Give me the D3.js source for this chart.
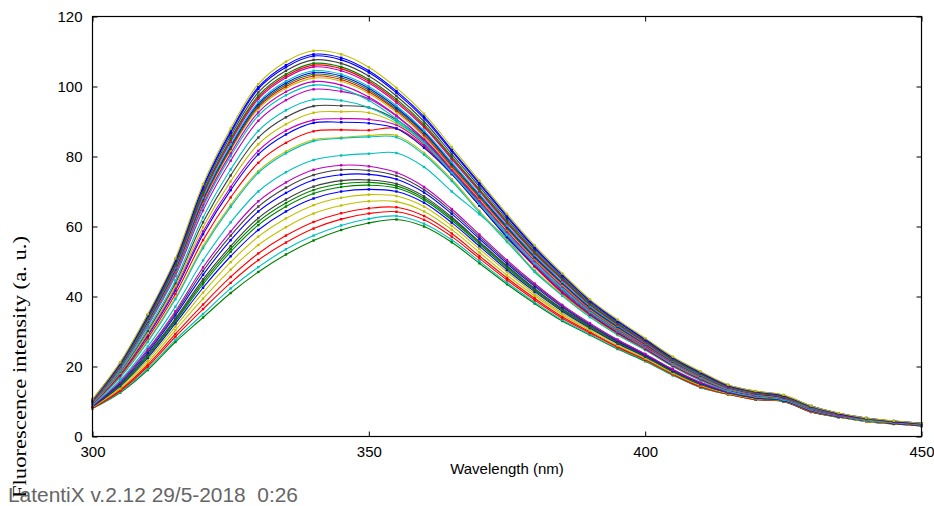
<!DOCTYPE html>
<html>
<head>
<meta charset="utf-8">
<script src="https://cdn.jsdelivr.net/npm/d3@7"></script>
<style>
  body { margin: 0; background: #fff; }
  svg text { font-family: "Liberation Sans", Arial, sans-serif; }
</style>
</head>
<body>
<svg id="chart" width="934" height="506"></svg>
<script>
// excitation scan, emission wavelengths (nm), one reading every 5 nm
var wavelengths = [300,305,310,315,320,325,330,335,340,345,350,355,360,365,370,375,380,385,390,395,400,405,410,415,420,425,430,435,440,445,450];
var xTicks = [300,350,400,450];
var yTicks = [0,20,40,60,80,100,120];

var lowSpectra = [
  [8,12.5,19,27,34,41,47,52,56,59,61,62,60,55.5,49.5,43.5,38,33,29,25,21.5,17.5,14,12,10.5,10,7,5.5,4.3,3.6,3],
  [8.1,12.7,19.4,27.6,35,42.3,48.4,53.5,57.4,60.3,62.2,63,60.8,56.2,50.1,44,38.4,33.3,29.2,25.2,21.7,17.6,14.1,12.1,10.6,10,7,5.5,4.3,3.6,3],
  [8.1,13,20,28.5,36.4,43.9,50.4,55.4,59.4,62.1,63.7,64.2,61.9,57.1,50.9,44.7,39,33.8,29.6,25.5,21.9,17.8,14.2,12.1,10.6,10.1,7.1,5.6,4.3,3.6,3],
  [8.2,13.3,20.5,29.3,37.7,45.6,52.3,57.4,61.3,63.8,65.2,65.5,63,58,51.6,45.3,39.5,34.2,29.9,25.7,22.1,17.9,14.4,12.2,10.7,10.1,7.1,5.6,4.4,3.7,3.1],
  [8.3,13.7,21.2,30.4,39.4,47.7,54.7,59.8,63.7,66,67.2,67.1,64.3,59.1,52.6,46.1,40.2,34.8,30.3,26,22.3,18.1,14.6,12.3,10.8,10.2,7.2,5.6,4.4,3.7,3.1],
  [8.4,14.1,21.9,31.4,41.1,49.8,57.1,62.3,66.1,68.2,69.1,68.7,65.7,60.2,53.6,47,40.8,35.3,30.7,26.4,22.6,18.3,14.7,12.4,10.9,10.3,7.3,5.7,4.4,3.7,3.1],
  [8.5,14.4,22.5,32.3,42.5,51.5,59,64.3,68,70,70.6,70,66.8,61.1,54.4,47.6,41.4,35.8,31,26.6,22.8,18.5,14.9,12.5,11,10.3,7.3,5.7,4.5,3.8,3.2],
  [8.6,14.6,22.9,32.9,43.5,52.8,60.4,65.7,69.4,71.3,71.8,71,67.6,61.8,55,48.1,41.8,36.1,31.2,26.8,22.9,18.6,15,12.6,11,10.3,7.4,5.7,4.5,3.8,3.2],
  [8.6,14.8,23.2,33.3,44.2,53.6,61.4,66.7,70.4,72.2,72.6,71.6,68.1,62.3,55.4,48.5,42.1,36.3,31.4,27,23,18.7,15.1,12.6,11,10.4,7.4,5.7,4.5,3.8,3.2],
  [8.6,14.9,23.5,33.7,44.9,54.4,62.4,67.7,71.4,73.1,73.3,72.2,68.6,62.7,55.7,48.8,42.3,36.5,31.6,27.1,23.1,18.8,15.1,12.6,11.1,10.4,7.4,5.8,4.5,3.8,3.2],
  [8.7,15.2,24,34.6,46.2,56.1,64.3,69.6,73.3,74.8,74.9,73.5,69.7,63.6,56.5,49.4,42.9,37,31.9,27.3,23.3,18.9,15.3,12.7,11.1,10.4,7.5,5.8,4.6,3.8,3.2],
  [8.8,15.4,24.5,35.2,47.3,57.4,65.7,71.1,74.7,76.2,76,74.5,70.5,64.3,57.1,49.9,43.3,37.3,32.1,27.5,23.5,19.1,15.4,12.8,11.2,10.5,7.5,5.8,4.6,3.8,3.2],
  [8.8,15.7,24.9,35.8,48.3,58.6,67.2,72.6,76.2,77.5,77.2,75.4,71.3,65,57.7,50.4,43.7,37.6,32.4,27.7,23.6,19.2,15.5,12.8,11.3,10.5,7.5,5.8,4.6,3.9,3.3],
  [9,16.1,25.7,37.1,50.3,61.2,70,75.5,79,80.3,80.8,81,77,70,63.5,56.5,47,40.5,34.5,29.5,25,20,16,13,11.4,10.6,7.6,5.9,4.6,3.9,3.3],
  [9.2,17,27.4,39.6,54.4,66.2,75.8,81.4,84.8,85.4,86,86,81,73.5,64.5,56,47.5,40.5,34.3,29.2,24.8,20,16.2,13.2,11.6,10.7,7.8,6,4.7,4,3.4],
  [9.1,16.8,27,39.2,53.8,65.6,75.3,80.9,84.4,85.2,85.6,85.5,80.5,73,64,55.6,47.2,40.2,34.1,29,24.7,20,16.1,13.1,11.6,10.6,7.8,6,4.7,4,3.3],
  [9.3,17.4,28.1,40.7,56.1,68.3,78.2,83.9,87.2,87.6,87.5,88,83,75,66,57,48.5,41,34.8,29.5,25,20.2,16.3,13.3,11.7,10.8,7.8,6,4.8,4,3.4],
  [9.4,17.8,28.8,41.7,57.8,70.4,80.6,86.3,89.6,89.8,89.5,88,82.5,75,66,57,48.8,41.3,35,29.8,25.2,20.4,16.5,13.4,11.8,10.8,7.9,6.1,4.8,4,3.4],
  [9.4,18,29.2,42.3,58.6,71.3,81.6,87.4,90.4,90.8,90.6,89,83.5,75.8,66.6,57.5,49,41.5,35.1,29.9,25.3,20.5,16.6,13.4,11.8,10.9,7.9,6.1,4.8,4.1,3.4],
  [9.5,18.2,29.6,43,59.8,72.9,83.5,89.2,92.5,92.8,92.5,89.5,84,76,67,58,49.5,42,35.5,30.1,25.4,20.6,16.7,13.5,11.9,10.9,8,6.1,4.8,4.1,3.5],
  [9.6,18.5,30.2,43.8,61.2,74.6,85.4,91.2,94.4,94.5,94,90.5,84.5,76,66.8,57.8,49.5,42,35.5,30.2,25.5,20.7,16.8,13.6,12,11,8,6.1,4.9,4.1,3.5],
  [9.7,18.8,30.8,44.6,62.6,76.3,87.3,93.2,96.3,96,94,90,84,75.5,66.5,57.6,49.5,42.2,35.7,30.5,25.7,20.9,16.9,13.7,12,11,8.1,6.2,4.9,4.1,3.5],
  [9.8,19.3,31.6,45.9,64.6,78.8,90.2,96.1,99.2,98.6,96.5,91.5,85,76.5,67.5,58.6,50.3,42.9,36.2,30.9,26,21.1,17.2,13.8,12.1,11.1,8.2,6.2,4.9,4.1,3.5]
];
var lowColors = ["g","c","r","r","y","y","b","g","g","k","b","k","m","c","y","c","r","b","m","y","k","c","m"];

// the dense upper bundle, drawn last
var highSpectra = [
  [9.7,19.3,31.8,46.3,65.6,80.1,91.7,97.5,100.4,99.4,96,90.7,84,75.3,66.6,57.9,49.7,42.5,35.7,30.4,25.6,20.7,16.9,13.5,11.9,10.8,8,6.1,4.8,4.1,3.5],
  [9.8,19.5,32.2,46.8,66.3,80.9,92.6,98.5,101.4,100.4,97,91.7,84.8,76.1,67.3,58.5,50.2,42.9,36.1,30.7,25.8,21,17.1,13.7,12,10.9,8.1,6.1,4.9,4.1,3.5],
  [9.9,19.7,32.5,47.3,67,81.8,93.6,99.5,102.4,101.5,98,92.6,85.7,76.8,68,59.1,50.7,43.3,36.4,31,26.1,21.2,17.2,13.8,12.1,11,8.2,6.2,4.9,4.1,3.5],
  [9.9,19.8,32.7,47.5,67.3,82.2,94.1,100,103,102,98.5,93.1,86.1,77.2,68.3,59.4,51,43.6,36.6,31.2,26.2,21.3,17.3,13.9,12.2,11.1,8.2,6.2,5,4.2,3.6],
  [10,19.9,32.8,47.8,67.7,82.6,94.5,100.5,103.5,102.5,99,93.5,86.6,77.6,68.7,59.7,51.2,43.8,36.8,31.3,26.4,21.4,17.4,13.9,12.2,11.1,8.3,6.3,5,4.2,3.6],
  [10,20,33,48,68,83,95,101,104,103,99.5,94,87,78,69,60,51.5,44,37,31.5,26.5,21.5,17.5,14,12.3,11.2,8.3,6.3,5,4.2,3.6],
  [10.1,20.1,33.2,48.2,68.3,83.4,95.5,101.5,104.5,103.5,100,94.5,87.4,78.4,69.3,60.3,51.8,44.2,37.2,31.7,26.6,21.6,17.6,14.1,12.4,11.3,8.3,6.3,5,4.2,3.6],
  [10.2,20.3,33.5,48.7,69,84.2,96.4,102.5,105.6,104.5,101,95.4,88.3,79.2,70,60.9,52.3,44.7,37.6,32,26.9,21.8,17.8,14.2,12.5,11.4,8.4,6.4,5.1,4.3,3.7],
  [10.2,20.4,33.7,49,69.4,84.7,96.9,103,106.1,105.1,101.5,95.9,88.7,79.6,70.4,61.2,52.5,44.9,37.7,32.1,27,21.9,17.9,14.3,12.5,11.4,8.5,6.4,5.1,4.3,3.7],
  [10.3,20.5,33.8,49.2,69.7,85.1,97.4,103.5,106.6,105.6,102,96.4,89.2,80,70.7,61.5,52.8,45.1,37.9,32.3,27.2,22,17.9,14.4,12.6,11.5,8.5,6.5,5.1,4.3,3.7],
  [10.4,20.7,34.2,49.7,70.4,85.9,98.3,104.5,107.6,106.6,103,97.3,90,80.7,71.4,62.1,53.3,45.5,38.3,32.6,27.4,22.3,18.1,14.5,12.7,11.6,8.6,6.5,5.2,4.3,3.7],
  [10.5,20.9,34.5,50.2,71.1,86.7,99.3,105.5,108.7,107.6,104,98.2,90.9,81.5,72.1,62.7,53.8,46,38.7,32.9,27.7,22.5,18.3,14.6,12.9,11.7,8.7,6.6,5.2,4.4,3.8],
  [10.5,21,34.7,50.4,71.4,87.2,99.8,106.1,109.2,108.2,104.5,98.7,91.4,81.9,72.5,63,54.1,46.2,38.9,33.1,27.8,22.6,18.4,14.7,12.9,11.8,8.7,6.6,5.3,4.4,3.8],
  [10.6,21.2,35,50.9,72.1,88,100.7,107.1,110.2,109.2,105.5,99.6,92.2,82.7,73.1,63.6,54.6,46.6,39.2,33.4,28.1,22.8,18.6,14.8,13,11.9,8.8,6.7,5.3,4.5,3.8]
];
var highColors = ["c","m","y","r","g","b","c","m","r","g","k","b","b","y"];

var palette = { b: "#0000ff", g: "#008000", r: "#ff0000", c: "#00bfbf", m: "#bf00bf", y: "#bfbf00", k: "#404040" };

var svg = d3.select("#chart");
var boxL = 92.5, boxR = 921.5, boxT = 16.5, boxB = 436.5;

var x = d3.scaleLinear().domain([300, 450]).range([boxL, boxR]);
var y = d3.scaleLinear().domain([0, 120]).range([boxB, boxT]);

var line = d3.line()
    .x(function(d, i){ return x(wavelengths[i]); })
    .y(function(d){ return y(d); })
    .curve(d3.curveCatmullRom.alpha(0.5));

function drawSpectra(g, spectra, colors){
  spectra.forEach(function(s, k){
    var col = palette[colors[k % colors.length]];
    g.append("path")
      .attr("d", line(s))
      .attr("fill", "none")
      .attr("stroke", col)
      .attr("stroke-width", 1.1);
    g.selectAll(null)
      .data(s)
     .enter().append("rect")
      .attr("x", function(d, i){ return x(wavelengths[i]) - 1.2; })
      .attr("y", function(d){ return y(d) - 1.2; })
      .attr("width", 2.4)
      .attr("height", 2.4)
      .attr("fill", col);
  });
}

var plot = svg.append("g");
drawSpectra(plot.append("g"), lowSpectra, lowColors);
drawSpectra(plot.append("g"), highSpectra, highColors);

// axes, ticks pointing inward on all four sides
var axes = svg.append("g").attr("class", "axes");

axes.append("g")
    .attr("transform", "translate(0," + boxB + ")")
    .call(d3.axisBottom(x).tickValues(xTicks).tickSizeInner(-5).tickSizeOuter(0).tickPadding(10));
axes.append("g")
    .attr("transform", "translate(0," + boxT + ")")
    .call(d3.axisTop(x).tickValues(xTicks).tickSizeInner(-5).tickSizeOuter(0).tickFormat(""));
axes.append("g")
    .attr("transform", "translate(" + boxL + ",0)")
    .call(d3.axisLeft(y).tickValues(yTicks).tickSizeInner(-5).tickSizeOuter(0).tickPadding(10));
axes.append("g")
    .attr("transform", "translate(" + boxR + ",0)")
    .call(d3.axisRight(y).tickValues(yTicks).tickSizeInner(-5).tickSizeOuter(0).tickFormat(""));

axes.selectAll(".domain").remove();
axes.selectAll(".tick line").attr("stroke", "#000");
axes.selectAll(".tick text")
    .attr("fill", "#000")
    .style("font-size", "15px");

axes.append("rect")
    .attr("x", boxL).attr("y", boxT)
    .attr("width", boxR - boxL).attr("height", boxB - boxT)
    .attr("fill", "none").attr("stroke", "#000").attr("stroke-width", 1.2);

svg.append("text")
    .attr("x", (boxL + boxR) / 2)
    .attr("y", 474)
    .attr("text-anchor", "middle")
    .style("font-size", "15px")
    .text("Wavelength (nm)");

svg.append("text")
    .attr("transform", "translate(26,367) rotate(-90)")
    .attr("text-anchor", "middle")
    .attr("textLength", 262)
    .attr("lengthAdjust", "spacingAndGlyphs")
    .style("font-family", "'Liberation Serif', 'Times New Roman', serif")
    .style("font-size", "18px")
    .text("Fluorescence intensity (a. u.)");

svg.append("text")
    .attr("x", 8)
    .attr("y", 502)
    .attr("textLength", 290)
    .attr("lengthAdjust", "spacingAndGlyphs")
    .attr("fill", "#666")
    .style("font-size", "20px")
    .style("white-space", "pre")
    .text("LatentiX v.2.12 29/5-2018  0:26");
</script>
</body>
</html>
